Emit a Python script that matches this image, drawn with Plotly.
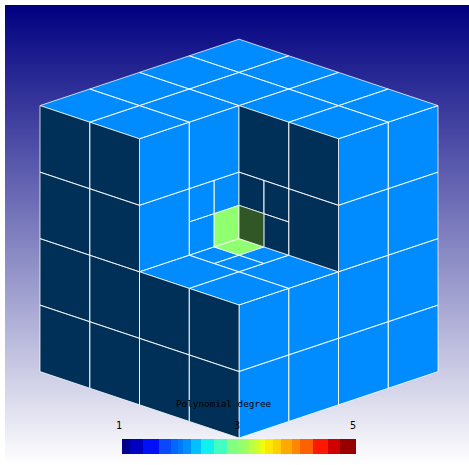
import numpy as np
import plotly.graph_objects as go

W, H = 469, 465

# Polynomial degree of each visible mesh face; None = no face there (notch or refined cell)
top_degree = [[None, None, 2, 2], [None, None, 2, 2], [2, 2, 2, 2], [2, 2, 2, 2]]
right_degree = [[2, 2, 2, 2], [2, 2, 2, 2], [None, None, 2, 2], [None, None, 2, 2]]
left_degree = [[2, 2, 2, 2], [2, 2, 2, 2], [None, None, 2, 2], [None, None, 2, 2]]
floor_degree = [[2, 2], [2, None]]
floor_refined_degree = [[2, 2], [2, 3]]
wall_a_degree = [[2, None], [2, 2]]
wall_a_refined_degree = [[2, 3], [2, 2]]
wall_b_degree = [[2, None], [2, 2]]
wall_b_refined_degree = [[2, 3], [2, 2]]

# Colour bar: segment edges (degree units) and colours
bar_title = "Polynomial degree"
bar_ticks = ["1", "3", "5"]
bar_edges = [1.00, 1.13, 1.36, 1.64, 1.84, 1.96, 2.05, 2.18, 2.35, 2.57, 2.79, 2.96, 3.07, 3.17,
             3.28, 3.36, 3.45, 3.58, 3.72, 3.90, 4.05, 4.26, 4.52, 4.73, 5.00]
bar_colors = ["#00008c", "#0000c0", "#0010f8", "#0848ff", "#0068ff", "#0078ff", "#0090ff", "#00c0ff",
              "#10f0f0", "#40ffc0", "#80ff80", "#90ff70", "#a0ff60", "#c0ff40", "#d0ff30", "#f0ff10",
              "#ffe800", "#ffd000", "#ffa800", "#ff8800", "#ff6000", "#ff1800", "#d00000", "#980000"]
DEGREE_COLOR = {2: (0, 140, 255), 3: (144, 255, 112)}
DARK_SHADE = 0.34

# Isometric projection of mesh coordinates to page pixels
OX, OY, DX, DY, DH = 239.0, 438.0, 49.75, 16.6, 66.5


def project(a, b, h):
    return OX + DX * (b - a), OY - DY * (a + b) - DH * h


buckets = {}


def add_patch(plane, fixed, u0, v0, size, table, shade):
    for i, row in enumerate(table):
        for j, deg in enumerate(row):
            if deg is None:
                continue
            u = u0 + j * size
            v = v0 + i * size
            corners = [(u, v), (u + size, v), (u + size, v + size), (u, v + size), (u, v)]
            xs, ys = buckets.setdefault((deg, shade), ([], []))
            for cu, cv in corners:
                if plane == "h":
                    p = project(cv, cu, fixed)
                elif plane == "a":
                    p = project(fixed, cu, cv)
                else:
                    p = project(cu, fixed, cv)
                xs.append(p[0])
                ys.append(p[1])
            xs.append(None)
            ys.append(None)


add_patch("h", 4, 0, 0, 1, top_degree, 1)
add_patch("a", 0, 0, 0, 1, right_degree, 1)
add_patch("b", 0, 0, 0, 1, left_degree, DARK_SHADE)
add_patch("h", 2, 0, 0, 1, floor_degree, 1)
add_patch("h", 2, 1, 1, 0.5, floor_refined_degree, 1)
add_patch("a", 2, 0, 2, 1, wall_a_degree, 1)
add_patch("a", 2, 1, 2, 0.5, wall_a_refined_degree, 1)
add_patch("b", 2, 0, 2, 1, wall_b_degree, DARK_SHADE)
add_patch("b", 2, 1, 2, 0.5, wall_b_refined_degree, DARK_SHADE)

fig = go.Figure()

# Backdrop gradient
rows = np.arange(5, 465) + 0.5
fig.add_trace(go.Heatmap(x0=237, dx=464, y0=5.5, dy=1, z=[[float(r)] for r in rows],
                         zmin=5, zmax=465, showscale=False, hoverinfo="skip",
                         colorscale=[[0, "#000080"], [1, "#ffffff"]]))

for (deg, shade), (xs, ys) in sorted(buckets.items(), key=lambda kv: (kv[0][0], -kv[0][1])):
    r, g, b = [round(c * shade) for c in DEGREE_COLOR[deg]]
    fig.add_trace(go.Scatter(x=xs, y=ys, mode="lines", fill="toself",
                             fillcolor=f"rgb({r},{g},{b})",
                             line=dict(color="rgba(255,255,255,0.85)", width=0.9),
                             hoverinfo="skip", showlegend=False))

# Colour bar
z = [list(range(len(bar_colors)))]
n = len(bar_colors)
scale = []
for i, c in enumerate(bar_colors):
    scale += [[i / n, c], [(i + 1) / n, c]]
fig.add_trace(go.Heatmap(x=bar_edges, y=[0, 1], z=z, xaxis="x2", yaxis="y2", zmin=-0.5, zmax=n - 0.5,
                         colorscale=scale, showscale=False, hoverinfo="skip"))

fig.update_layout(
    width=W, height=H, margin=dict(l=0, r=0, t=0, b=0),
    paper_bgcolor="white", plot_bgcolor="white", showlegend=False,
    xaxis=dict(range=[0, W], visible=False, domain=[0, 1], fixedrange=True),
    yaxis=dict(range=[H, 0], visible=False, domain=[0, 1], fixedrange=True),
    xaxis2=dict(range=[1, 5], visible=False, domain=[122 / W, 356 / W], anchor="y2", fixedrange=True),
    yaxis2=dict(range=[0, 1], visible=False, domain=[(H - 454) / H, (H - 439) / H], anchor="x2", fixedrange=True),
    annotations=[
        dict(x=223.5, y=403.5, text=bar_title, showarrow=False, xref="x", yref="y",
             font=dict(family="DejaVu Sans Mono", size=9.3, color="black")),
    ] + [
        dict(x=px, y=425, text=t, showarrow=False, xref="x", yref="y",
             font=dict(family="DejaVu Sans Mono", size=10, color="black"))
        for px, t in zip([119, 237, 353], bar_ticks)
    ],
)

fig.write_html("out.html", config={"displayModeBar": False},
               post_script="document.body.style.margin='0';")
